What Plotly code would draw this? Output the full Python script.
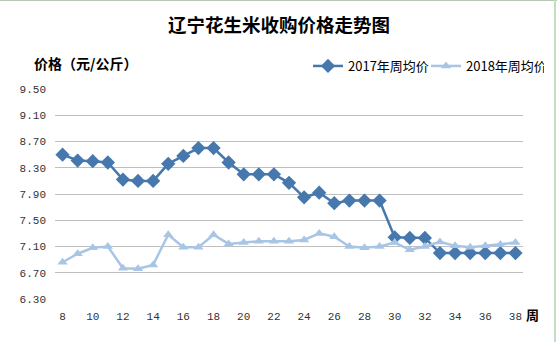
import plotly.graph_objects as go

weeks = list(range(8, 39))
price_2017 = [8.50, 8.41, 8.40, 8.38, 8.12, 8.10, 8.10, 8.36, 8.48, 8.60, 8.60, 8.38,
              8.20, 8.20, 8.20, 8.07, 7.85, 7.92, 7.76, 7.80, 7.80, 7.80, 7.24, 7.23,
              7.23, 7.00, 7.00, 7.00, 7.00, 7.00, 7.00]
price_2018 = [6.86, 6.99, 7.08, 7.10, 6.77, 6.76, 6.82, 7.28, 7.09, 7.09, 7.28, 7.14,
              7.16, 7.18, 7.18, 7.18, 7.20, 7.30, 7.25, 7.10, 7.08, 7.10, 7.16, 7.05,
              7.10, 7.17, 7.11, 7.09, 7.11, 7.13, 7.16]
y_ticks = [6.30, 6.70, 7.10, 7.50, 7.90, 8.30, 8.70, 9.10, 9.50]
x_ticks = list(range(8, 39, 2))

W, H = 557, 342
L, R, T, B = 55, 34, 89, 43
pw, ph = W - L - R, H - T - B

def px(x):
    return (x - L) / pw

def py(y):
    return (H - B - y) / ph

fig = go.Figure()
fig.add_trace(go.Scatter(
    x=weeks, y=price_2017, name="2017年周均价", mode="lines+markers",
    line=dict(color="#4678ad", width=2.5),
    marker=dict(symbol="diamond", size=11, color="#4678ad"),
))
fig.add_trace(go.Scatter(
    x=weeks, y=price_2018, name="2018年周均价", mode="lines+markers",
    line=dict(color="#a9c5e6", width=2.5),
    marker=dict(symbol="triangle-up", size=9, color="#a9c5e6"),
))

tick_font = dict(family="Liberation Mono", size=11, color="#333333")

fig.update_layout(
    width=W, height=H,
    margin=dict(l=L, r=R, t=T, b=B, autoexpand=False),
    paper_bgcolor="white", plot_bgcolor="white",
    showlegend=True,
    title=dict(text="<b>辽宁花生米收购价格走势图</b>", x=279 / W, xref="container",
               xanchor="center", y=1 - 26 / H, yref="container", yanchor="middle",
               font=dict(family="Noto Sans CJK SC", size=18.5, color="#000000")),
    legend=dict(orientation="h", x=px(308), xanchor="left", y=py(66), yanchor="middle",
                font=dict(family="Noto Sans CJK SC", size=13, color="#000000"),
                bgcolor="rgba(0,0,0,0)", itemwidth=30, tracegroupgap=0,
                entrywidth=73, entrywidthmode="pixels"),
    xaxis=dict(range=[7.5, 38.5], tickmode="array", tickvals=x_ticks,
               ticktext=[str(v) for v in x_ticks], showgrid=False, zeroline=False,
               showline=False, ticks="", tickfont=tick_font, ticklabelstandoff=9),
    yaxis=dict(range=[6.30, 9.50], tickmode="array", tickvals=y_ticks,
               ticktext=[f"{v:.2f}" for v in y_ticks], showgrid=True,
               gridcolor="#bfbfbf", gridwidth=1, zeroline=False, showline=False,
               ticks="", tickfont=tick_font, ticklabelstandoff=8),
    annotations=[
        dict(text="<b>价格（元/公斤）</b>", xref="paper", yref="paper", x=px(32), y=py(63),
             xanchor="left", yanchor="middle", showarrow=False,
             font=dict(family="Noto Sans CJK SC", size=14, color="#000000")),
        dict(text="<b>周</b>", xref="paper", yref="paper", x=px(532), y=py(314),
             xanchor="center", yanchor="middle", showarrow=False,
             font=dict(family="Noto Sans CJK SC", size=13, color="#000000")),
    ],
    shapes=[
        dict(type="line", xref="paper", yref="paper", x0=px(0), x1=px(557), y0=py(0.5), y1=py(0.5),
             line=dict(color="#b5c9b5", width=1)),
        dict(type="line", xref="paper", yref="paper", x0=px(555), x1=px(555), y0=py(0), y1=py(342),
             line=dict(color="#c3dec3", width=2)),
    ],
)

fig.write_html("out.html")
